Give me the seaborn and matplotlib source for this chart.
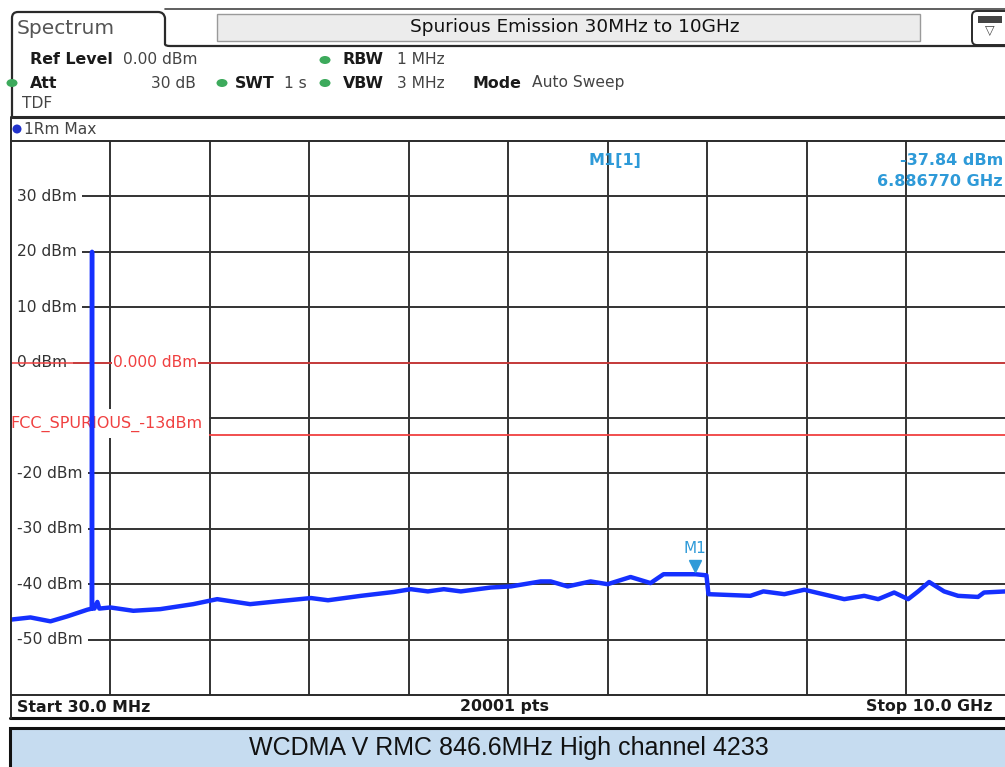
import matplotlib
matplotlib.use("Agg")
import matplotlib.pyplot as plt
import matplotlib.patches as mpatches
import pandas as pd
import seaborn as sns

# ---- data ----
freq_ghz = [0.03, 0.23, 0.43, 0.60, 0.80, 0.845, 0.8460, 0.8466, 0.8472, 0.87, 0.90, 0.92,
            1.03, 1.26, 1.53, 1.86, 2.10, 2.43, 2.70, 3.04, 3.21, 3.54, 3.87, 4.04,
            4.21, 4.37, 4.54, 4.84, 5.04, 5.34, 5.44, 5.61, 5.84, 6.01, 6.24, 6.44,
            6.57, 6.89, 7.00, 7.02, 7.44, 7.57, 7.78, 7.98, 8.12, 8.38, 8.58, 8.72,
            8.88, 9.02, 9.12, 9.23, 9.38, 9.52, 9.72, 9.78, 10.0]
level_dbm = [-46.4, -46.0, -46.7, -45.8, -44.6, -44.4, 4.5, 20.0, -44.3, -44.4, -43.2, -44.4,
             -44.2, -44.8, -44.5, -43.6, -42.7, -43.6, -43.1, -42.5, -42.9, -42.1, -41.4, -40.9,
             -41.3, -40.9, -41.3, -40.6, -40.4, -39.5, -39.5, -40.4, -39.5, -40.0, -38.7, -39.8,
             -38.2, -38.2, -38.4, -41.8, -42.1, -41.3, -41.8, -41.0, -41.6, -42.7, -42.1, -42.7,
             -41.5, -42.7, -41.3, -39.6, -41.3, -42.1, -42.3, -41.5, -41.3]

start_ghz, stop_ghz = 0.03, 10.0
ref_min, ref_max = -60, 40
y_ticks = [30, 20, 10, 0, -10, -20, -30, -40, -50]
ref_line_dbm = 0.0
limit_dbm = -13.0
marker_ghz, marker_dbm = 6.886770, -37.84

W, H = 1005, 767
fig = plt.figure(figsize=(W / 100, H / 100), dpi=100)
sns.set_style("white")
plt.rcParams["font.family"] = ["DejaVu Sans"]

# background / chrome axis in pixel coordinates
bg = fig.add_axes([0, 0, 1, 1])
bg.set_xlim(0, W)
bg.set_ylim(H, 0)
bg.axis("off")

dark = "#2a2a2a"
# tab outline
tab = mpatches.Path(
    [(12, 117), (12, 18), (12, 12), (18, 12), (158, 12), (164, 12), (165, 18),
     (165, 44), (165, 46), (170, 46), (W, 46)],
    [1, 2, 3, 3, 2, 3, 3, 2, 3, 3, 2])
bg.add_patch(mpatches.PathPatch(tab, fill=False, lw=1.6, ec=dark))
bg.plot([165, W], [9, 9], color="#444", lw=1.2)
bg.add_patch(mpatches.Rectangle((217, 14), 703, 27, fc="#ececec", ec="#9a9a9a", lw=1))
bg.add_patch(mpatches.FancyBboxPatch((972, 11), 40, 34, boxstyle="round,pad=0,rounding_size=5",
                                     fc="white", ec=dark, lw=1.4))
bg.add_patch(mpatches.Rectangle((978, 16), 24, 7, fc="#444", ec="none"))
bg.text(990, 31, "\u25bd", ha="center", va="center", fontsize=9, color="#444")
bg.text(17, 28, "Spectrum", fontsize=14.5, color="#555", va="center")
bg.text(575, 27, "Spurious Emission 30MHz to 10GHz", fontsize=13.3, color="#111",
        ha="center", va="center")

# settings panel
green = "#3daa5c"
for (x, y) in [(325, 60), (12, 83), (222, 83), (325, 83)]:
    bg.add_patch(mpatches.Ellipse((x, y), 11, 8, fc=green, ec="none"))
lbl = dict(fontsize=11.4, fontweight="bold", color="#1a1a1a", va="center")
val = dict(fontsize=11.2, color="#444", va="center")
bg.text(30, 60, "Ref Level", **lbl)
bg.text(123, 60, "0.00 dBm", **val)
bg.text(343, 60, "RBW", **lbl)
bg.text(397, 60, "1 MHz", **val)
bg.text(30, 83, "Att", **lbl)
bg.text(196, 83, "30 dB", ha="right", **val)
bg.text(235, 83, "SWT", **lbl)
bg.text(284, 83, "1 s", **val)
bg.text(343, 83, "VBW", **lbl)
bg.text(397, 83, "3 MHz", **val)
bg.text(473, 83, "Mode", **lbl)
bg.text(532, 83, "Auto Sweep", **val)
bg.text(22, 104, "TDF", **val)
bg.plot([12, W], [117, 117], color=dark, lw=2.2)
bg.add_patch(mpatches.Ellipse((17, 129), 9, 9, fc="#2233cc", ec="none"))
bg.text(24, 129, "1Rm Max", **val)

# bottom bar
bot = dict(fontsize=11.3, fontweight="bold", color="#1a1a1a", va="center")
bg.text(17, 707, "Start 30.0 MHz", **bot)
bg.text(505, 707, "20001 pts", ha="center", **bot)
bg.text(993, 707, "Stop 10.0 GHz", ha="right", **bot)
bg.plot([10, W], [718, 718], color="#111", lw=2.2)

# caption box
bg.add_patch(mpatches.Rectangle((10, 728), 1000, 45, fc="#c6dcf0", ec="#111", lw=2.2))
bg.text(509, 748, "WCDMA V RMC 846.6MHz High channel 4233", fontsize=18, color="#111",
        ha="center", va="center", family=["Liberation Sans Narrow", "Liberation Sans"])

# ---- plot area ----
px_l, px_r, px_t, px_b = 10.5, 1006, 141, 695
ax = fig.add_axes([px_l / W, (H - px_b) / H, (px_r - px_l) / W, (px_b - px_t) / H])
ax.set_xlim(start_ghz, stop_ghz)
ax.set_ylim(ref_min, ref_max)
ax.set_xticks([])
ax.set_yticks([])
for s in ax.spines.values():
    s.set_color(dark)
    s.set_linewidth(1.4)
    s.set_zorder(7)

step = (stop_ghz - start_ghz) / 10
for k in range(1, 10):
    ax.axvline(start_ghz + k * step, color="#333", lw=1.4, zorder=1)
for t in y_ticks:
    ax.axhline(t, color="#333", lw=1.4, zorder=1)

ytr = ax.get_yaxis_transform()
for t in y_ticks:
    ax.text(0.0065, t, f"{t} dBm", transform=ytr, fontsize=11.2, color="#333", va="center",
            ha="left", zorder=2, bbox=dict(fc="white", ec="none", pad=4))

red = "#f04040"
ax.axhline(ref_line_dbm, color=red, lw=1.1, zorder=3)
ax.axhline(limit_dbm, color=red, lw=1.3, zorder=3)
ax.text(0.103, ref_line_dbm, "0.000 dBm", transform=ytr, fontsize=11.2, color=red,
        va="center", zorder=4, bbox=dict(fc="white", ec="none", pad=0.4))
ax.text(0.0, limit_dbm + 0.5, "FCC_SPURIOUS_-13dBm", transform=ytr, fontsize=11.5, color=red,
        va="bottom", zorder=4, bbox=dict(fc="white", ec="none", pad=4.6))

trace = pd.DataFrame({"freq": freq_ghz, "level": level_dbm})
sns.lineplot(data=trace, x="freq", y="level", ax=ax, color="#1530ff", lw=3.2,
             estimator=None, sort=True, zorder=5)
ax.set_xlabel("")
ax.set_ylabel("")

mk = "#2e9ad8"
ax.plot([marker_ghz], [marker_dbm + 1.2], marker="v", ms=8, color=mk, ls="none", zorder=6)
ax.text(marker_ghz, marker_dbm + 3.0, "M1", color=mk, fontsize=11, ha="center",
        va="bottom", zorder=6)
ax.text(0.581, 0.965, "M1[1]", transform=ax.transAxes, color=mk, fontsize=11.5,
        fontweight="bold", va="center", zorder=6)
ax.text(0.997, 0.965, f"{marker_dbm:.2f} dBm", transform=ax.transAxes, color=mk,
        fontsize=11.5, fontweight="bold", ha="right", va="center", zorder=6)
ax.text(0.997, 0.927, f"{marker_ghz:.6f} GHz", transform=ax.transAxes, color=mk,
        fontsize=11.5, fontweight="bold", ha="right", va="center", zorder=6)

# left frame line from the settings panel down to the bottom bar
bg.plot([10.5, 10.5], [117, 718], color=dark, lw=1.4, zorder=10)
fig.savefig("out.png", dpi=100)
